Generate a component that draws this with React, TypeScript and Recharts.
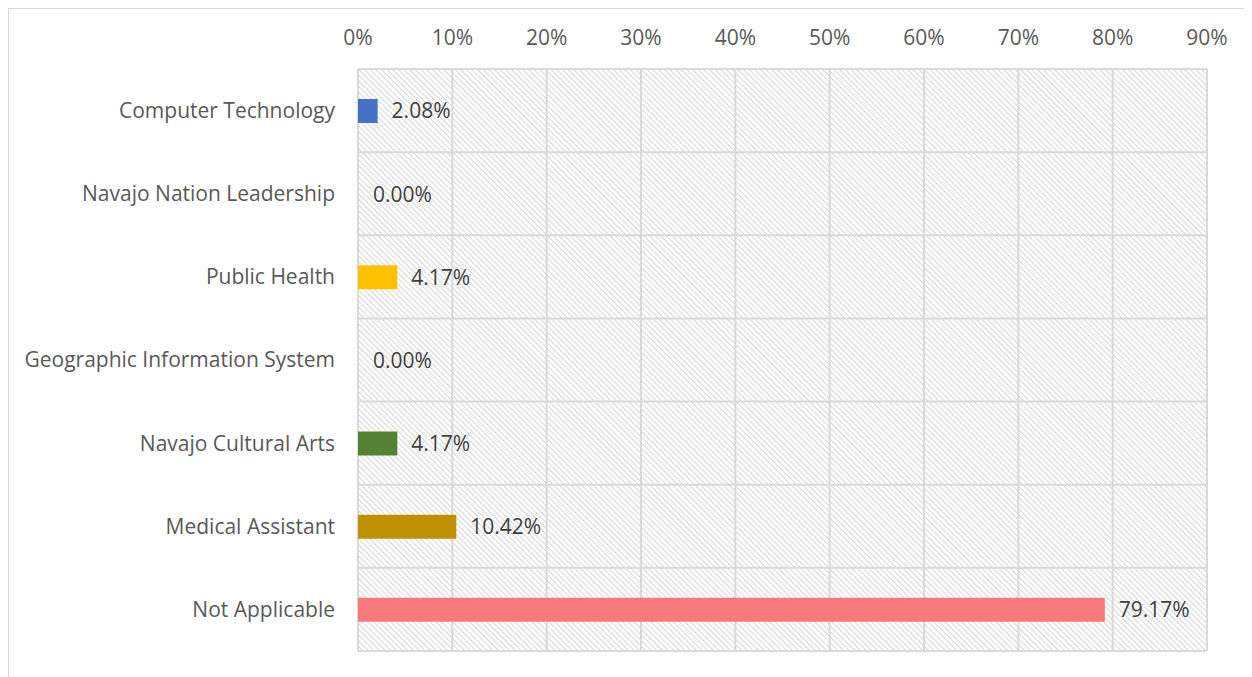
import React from 'react';
import { BarChart, Bar, XAxis, YAxis, CartesianGrid, Cell, LabelList } from 'recharts';

const categories = [
  'Computer Technology',
  'Navajo Nation Leadership',
  'Public Health',
  'Geographic Information System',
  'Navajo Cultural Arts',
  'Medical Assistant',
  'Not Applicable',
];
const values = [0.0208, 0, 0.0417, 0, 0.0417, 0.1042, 0.7917];
const colors = ['#4472C4', 'transparent', '#FFC000', 'transparent', '#548235', '#BF9000', '#F8797B'];
const xTicks = [0, 0.1, 0.2, 0.3, 0.4, 0.5, 0.6, 0.7, 0.8, 0.9];

const data = categories.map((name, i) => ({ name, value: values[i] }));

const FONT = '"Open Sans", Lato, sans-serif';

export default function App() {
  return (
    <div style={{ position: 'relative', width: 1250, height: 672, border: '1px solid #d9d9d9', borderRight: 'none', borderBottom: 'none', fontFamily: FONT }}>
      <svg width={0} height={0} style={{ position: 'absolute' }}>
        <defs>
          <pattern id="hatch" width={4} height={4} patternUnits="userSpaceOnUse" patternTransform="rotate(-45)">
            <rect width={4} height={4} fill="#ffffff" />
            <line x1={0} y1={0} x2={0} y2={4} stroke="#cccccc" strokeWidth={1.6} />
          </pattern>
        </defs>
      </svg>
      <BarChart
        width={1250}
        height={672}
        data={data}
        layout="vertical"
        margin={{ top: 30, right: 52, bottom: 30, left: 10 }}
        barSize={24}
      >
        <CartesianGrid
          stroke="#d9d9d9"
          strokeWidth={2}
          fill="url(#hatch)"
          fillOpacity={1}
          horizontalCoordinatesGenerator={({ offset }: any) =>
            categories.map((_, i) => offset.top + (i * offset.height) / categories.length).concat([offset.top + offset.height])
          }
        />
        <XAxis
          type="number"
          orientation="top"
          domain={[0, 0.9]}
          ticks={xTicks}
          tickFormatter={(v: number) => `${Math.round(v * 100)}%`}
          axisLine={false}
          tickLine={false}
          tick={{ fill: '#595959', fontSize: 21, fontFamily: FONT }}
          tickMargin={18}
          interval={0}
        />
        <YAxis
          type="category"
          dataKey="name"
          width={339}
          axisLine={false}
          tickLine={false}
          tick={{ fill: '#595959', fontSize: 21, fontFamily: FONT }}
          tickMargin={17}
          interval={0}
        />
        <Bar dataKey="value" isAnimationActive={false} minPointSize={1}>
          {data.map((d, i) => (
            <Cell key={d.name} fill={colors[i]} />
          ))}
          <LabelList
            dataKey="value"
            position="right"
            offset={14}
            formatter={(v: any) => `${(Number(v) * 100).toFixed(2)}%`}
            style={{ fill: '#404040', fontSize: 21, fontFamily: FONT }}
          />
        </Bar>
      </BarChart>
    </div>
  );
}
